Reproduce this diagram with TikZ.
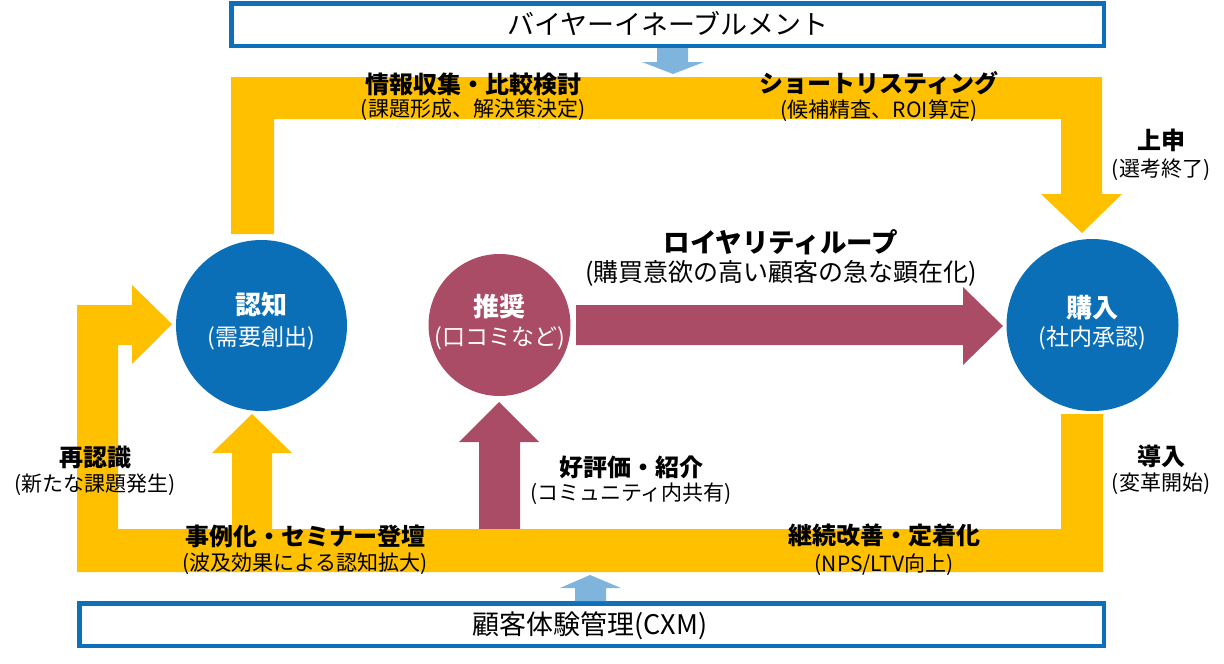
\documentclass[tikz,border=0pt]{standalone}
\usepackage{fontspec}
\setmainfont{Noto Sans CJK JP}
\definecolor{band}{RGB}{255,192,0}
\definecolor{cblue}{RGB}{11,111,183}
\definecolor{maroon}{RGB}{170,76,102}
\definecolor{lblue}{RGB}{127,180,220}
\definecolor{bblue}{RGB}{14,112,186}
\tikzset{
  ttl/.style={font=\bfseries\fontsize{24}{28}\selectfont, inner sep=0pt, text=black},
  sub/.style={font=\fontsize{21}{24}\selectfont, inner sep=0pt, text=black},
  cttl/.style={font=\bfseries\fontsize{26}{30}\selectfont, inner sep=0pt, text=white},
  csub/.style={font=\fontsize{23}{27}\selectfont, inner sep=0pt, text=white},
  boxtxt/.style={font=\fontsize{27}{31}\selectfont, inner sep=0pt, text=black},
  frame/.style={draw=bblue, line width=4.5pt, fill=white},
  stage/.style={circle, inner sep=0pt},
}
\begin{document}
\begin{tikzpicture}[x=1pt,y=-1pt]
\useasboundingbox (0,0) rectangle (1224,664);

% boxes
\draw[frame] (231.25,3.25) rectangle (1103.75,45.75);
\node[boxtxt] (tbtxt) at (668,24) {バイヤーイネーブルメント};
\draw[frame] (79.25,603.25) rectangle (1103.75,645.75);
\node[boxtxt] (bbtxt) at (590,626) {顧客体験管理(CXM)};

% small blue arrows
\fill[lblue] (657,48) -- (688,48) -- (688,62) -- (704,62) -- (673,74) -- (642,62) -- (657,62) -- cycle;
\fill[lblue] (575,601) -- (606,601) -- (606,588) -- (621,588) -- (590,575) -- (560,588) -- (575,588) -- cycle;

% yellow top band
\fill[band] (231,234) -- (231,77) -- (1102,77) -- (1102,194) -- (1122,194) -- (1082,233)
  -- (1041,194) -- (1061,194) -- (1061,119) -- (274,119) -- (274,234) -- cycle;

% maroon arrows
\fill[maroon] (479,531) -- (479,442) -- (459,442) -- (499,402) -- (539,442) -- (520,442) -- (520,531) -- cycle;
\fill[maroon] (576,305) -- (963,305) -- (963,287) -- (1003,326) -- (963,365) -- (963,345) -- (576,345) -- cycle;

% yellow bottom band
\fill[band] (1061,414) -- (1103,414) -- (1103,572) -- (77,572) -- (77,305) -- (132,305)
  -- (132,285) -- (172,324) -- (132,364) -- (132,345) -- (118,345) -- (118,529)
  -- (232,529) -- (232,453) -- (212,453) -- (252,414) -- (292,453) -- (272,453)
  -- (272,529) -- (1061,529) -- cycle;

% circles
\node[stage, fill=cblue, minimum size=171pt] (ninchi) at (261.5,325.5) {};
\node[stage, fill=maroon, minimum size=142pt] (suisho) at (499.5,325) {};
\node[stage, fill=cblue, minimum size=172pt] (konyu) at (1092.5,325) {};

\node[cttl] (ninchiT) at (261.5,305) {認知};
\node[csub] (ninchiS) at (261.5,338) {(需要創出)};
\node[cttl] (suishoT) at (499.5,307) {推奨};
\node[csub] (suishoS) at (499.5,338) {(口コミなど)};
\node[cttl] (konyuT) at (1092.5,308) {購入};
\node[csub] (konyuS) at (1092.5,338) {(社内承認)};

% labels
\node[ttl] (l1) at (473,84) {情報収集・比較検討};
\node[sub] (l1s) at (473,110) {(課題形成、解決策決定)};
\node[ttl] (l2) at (879,83) {ショートリスティング};
\node[sub] (l2s) at (879,111) {(候補精査、ROI算定)};
\node[ttl] (l3) at (1161,140) {上申};
\node[sub] (l3s) at (1161,170) {(選考終了)};
\node[ttl, font=\bfseries\fontsize{26.5}{30}\selectfont] (l4) at (781,242) {ロイヤリティループ};
\node[sub, font=\fontsize{25}{29}\selectfont] (l4s) at (781,273) {(購買意欲の高い顧客の急な顕在化)};
\node[ttl] (l5) at (95,457) {再認識};
\node[sub] (l5s) at (95,485) {(新たな課題発生)};
\node[ttl] (l6) at (631,467) {好評価・紹介};
\node[sub] (l6s) at (631,494) {(コミュニティ内共有)};
\node[ttl] (l7) at (1161,456) {導入};
\node[sub] (l7s) at (1161,484) {(変革開始)};
\node[ttl] (l8) at (305,536) {事例化・セミナー登壇};
\node[sub] (l8s) at (305,564) {(波及効果による認知拡大)};
\node[ttl] (l9) at (884,535) {継続改善・定着化};
\node[sub] (l9s) at (884,565) {(NPS/LTV向上)};
\end{tikzpicture}
\end{document}
